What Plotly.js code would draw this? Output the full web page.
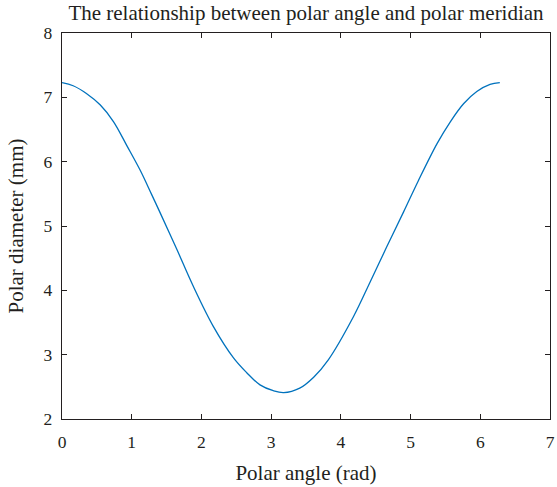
<!DOCTYPE html>
<html>
<head>
<meta charset="utf-8">
<script src="https://cdn.plot.ly/plotly-3.0.1.min.js"></script>
<style>
  html, body { margin: 0; padding: 0; background: #fff; }
  #plot { width: 557px; height: 487px; }
</style>
</head>
<body>
<div id="plot"></div>
<script>
// values
var polarAngle = [0, 0.16, 0.35, 0.55, 0.74, 0.93, 1.12, 1.29, 1.41, 1.65, 1.88, 2.17,
                  2.46, 2.65, 2.84, 3.03, 3.18, 3.41, 3.61, 3.82, 4.18, 4.42, 4.66,
                  4.90, 5.11, 5.38, 5.57, 5.76, 5.95, 6.14, 6.28];
var polarDiameter = [7.23, 7.18, 7.06, 6.88, 6.62, 6.25, 5.87, 5.48, 5.20, 4.63, 4.07, 3.44,
                     2.95, 2.72, 2.53, 2.44, 2.41, 2.48, 2.65, 2.92, 3.59, 4.13, 4.68,
                     5.22, 5.70, 6.28, 6.62, 6.90, 7.09, 7.20, 7.23];
var xTicks = [0, 1, 2, 3, 4, 5, 6, 7];
var yTicks = [2, 3, 4, 5, 6, 7, 8];

var serif = "Liberation Serif, Times New Roman, serif";
var ink = "#231F20";

var trace1 = {
  x: polarAngle,
  y: polarDiameter,
  type: "scatter",
  mode: "lines",
  line: { color: "#0072BD", width: 1.3, shape: "spline", smoothing: 1 },
  hoverinfo: "none"
};

var data = [trace1];

var layout = {
  width: 557,
  height: 487,
  margin: { l: 62, r: 7, t: 33, b: 68 },
  paper_bgcolor: "#fff",
  plot_bgcolor: "#fff",
  showlegend: false,
  font: { family: serif, size: 17, color: ink },
  title: {
    text: "The relationship between polar angle and polar meridian",
    font: { family: serif, size: 21, color: ink },
    xref: "paper", x: 0.5, xanchor: "center",
    yref: "container", y: 0.975, yanchor: "middle"
  },
  xaxis: {
    range: [0, 7],
    tickvals: xTicks,
    ticks: "inside", ticklen: 5, tickwidth: 1, tickcolor: ink,
    ticklabelstandoff: 7,
    showline: true, linecolor: ink, linewidth: 1.3, mirror: "ticks",
    showgrid: false, zeroline: false,
    tickfont: { family: serif, size: 17.5, color: ink },
    title: { text: "Polar angle (rad)", font: { family: serif, size: 21, color: ink }, standoff: 14 }
  },
  yaxis: {
    range: [2, 8],
    tickvals: yTicks,
    ticks: "inside", ticklen: 5, tickwidth: 1, tickcolor: ink,
    ticklabelstandoff: 5,
    showline: true, linecolor: ink, linewidth: 1.3, mirror: "ticks",
    showgrid: false, zeroline: false,
    tickfont: { family: serif, size: 17.5, color: ink },
    title: { text: "Polar diameter (mm)", font: { family: serif, size: 21, color: ink }, standoff: 14 }
  }
};

Plotly.newPlot("plot", data, layout, { staticPlot: true });
</script>
</body>
</html>
